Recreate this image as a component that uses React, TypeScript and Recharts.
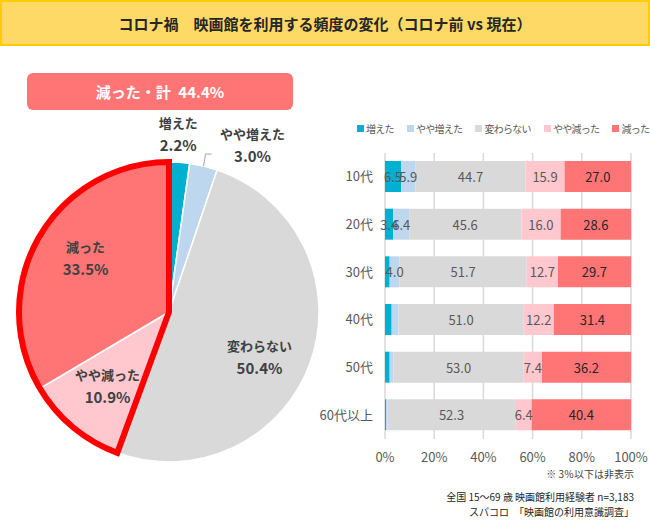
import React from 'react';
import { PieChart, Pie, Cell, BarChart, Bar, XAxis, YAxis, CartesianGrid, LabelList } from 'recharts';

// ---- Data ----
const seriesNames = ['増えた', 'やや増えた', '変わらない', 'やや減った', '減った'];
const seriesColors = ['#00B0D0', '#BDD7EE', '#D9D9D9', '#FFC7CE', '#FF7575'];

const pieValues = [2.2, 3.0, 50.4, 10.9, 33.5];

const ageCategories = ['10代', '20代', '30代', '40代', '50代', '60代以上'];
const increased = [6.5, 3.4, 1.9, 2.7, 1.9, 0.4];
const slightlyIncreased = [5.9, 6.4, 4.0, 2.7, 1.5, 0.5];
const unchanged = [44.7, 45.6, 51.7, 51.0, 53.0, 52.3];
const slightlyDecreased = [15.9, 16.0, 12.7, 12.2, 7.4, 6.4];
const decreased = [27.0, 28.6, 29.7, 31.4, 36.2, 40.4];

const xTicks = [0, 20, 40, 60, 80, 100];

const titleText = 'コロナ禍\u3000映画館を利用する頻度の変化（コロナ前 vs 現在）';
const noteText1 = '※ 3％以下は非表示';
const noteText2 = '全国 15～69 歳 映画館利用経験者 n=3,183';
const noteText3 = 'スパコロ\u3000「映画館の利用意識調査」';

// ---- Derived tables ----
const pieData = seriesNames.map((name, i) => ({ name, value: pieValues[i] }));
const decreasedTotal = pieValues[3] + pieValues[4];
const outlineData = [
  { name: 'other', value: pieValues[0] + pieValues[1] + pieValues[2] },
  { name: 'decreased', value: decreasedTotal },
];
const seriesKeys = ['inc', 'sinc', 'same', 'sdec', 'dec'];
const seriesArrays = [increased, slightlyIncreased, unchanged, slightlyDecreased, decreased];
const barData = ageCategories.map((age, i) => {
  const row: any = { age };
  seriesKeys.forEach((k, j) => (row[k] = seriesArrays[j][i]));
  return row;
});

const FONT = "'Noto Sans CJK JP', 'Noto Sans', sans-serif";
const RADIAN = Math.PI / 180;

const renderPieLabel = (props: any) => {
  const { cx, cy, midAngle, outerRadius, index, name, value } = props;
  const cos = Math.cos(-midAngle * RADIAN);
  const sin = Math.sin(-midAngle * RADIAN);
  let x: number;
  let y: number;
  let line: React.ReactNode = null;
  if (index === 0) {
    const r = outerRadius * 1.08;
    x = cx + r * cos - 2;
    y = cy + r * sin - 17;
  } else if (index === 1) {
    const ex = cx + outerRadius * cos;
    const ey = cy + outerRadius * sin;
    const my = ey - 12;
    line = (
      <polyline
        points={`${ex},${ey} ${ex + 2},${my} ${ex + 8},${my}`}
        fill="none"
        stroke="#A6A6A6"
        strokeWidth={1}
      />
    );
    x = ex + 49;
    y = my - 10;
  } else {
    const r = outerRadius * 0.64;
    x = cx + r * cos;
    y = cy + r * sin;
    if (index === 2) y += 13;
    if (index === 4) y -= 7;
  }
  return (
    <g>
      {line}
      <text x={x} y={y - 11} textAnchor="middle" dominantBaseline="central" fill="#404040" fontSize={13} fontWeight={700} fontFamily={FONT}>
        {name}
      </text>
      <text x={x} y={y + 11} textAnchor="middle" dominantBaseline="central" fill="#404040" fontSize={15} fontWeight={700} fontFamily={FONT}>
        {`${value.toFixed(1)}%`}
      </text>
    </g>
  );
};

const makeBarLabel = (color: string) => (props: any) => {
  const { x, y, width, height, value } = props;
  if (value == null || value <= 3) return null;
  return (
    <text
      x={x + width / 2}
      y={y + height / 2}
      textAnchor="middle"
      dominantBaseline="central"
      fill={color}
      fontSize={13}
      fontFamily={FONT}
    >
      {Number(value).toFixed(1)}
    </text>
  );
};

export default function App() {
  return (
    <div style={{ position: 'absolute', left: 0, top: 0, width: 650, height: 527, background: '#fff', fontFamily: FONT, overflow: 'hidden' }}>
      {/* Title */}
      <div
        style={{
          position: 'absolute', left: 0, top: 0, width: 650, height: 46, boxSizing: 'border-box',
          background: '#FFD966', border: '2px solid #FFCC00', display: 'flex', alignItems: 'center',
          justifyContent: 'center', fontWeight: 700, fontSize: 15, color: '#262626',
        }}
      >
        {titleText}
      </div>

      {/* Decrease total box */}
      <div
        style={{
          position: 'absolute', left: 27, top: 73, width: 266, height: 37, boxSizing: 'border-box',
          background: '#FF7575', borderRadius: 6, color: '#fff', fontWeight: 700, fontSize: 15,
          display: 'flex', alignItems: 'center', justifyContent: 'center',
        }}
      >
        {`減った・計\u2002${decreasedTotal.toFixed(1)}%`}
      </div>

      {/* Pie */}
      <div style={{ position: 'absolute', left: 0, top: 0 }}>
        <PieChart width={330} height={480}>
          <Pie
            data={pieData}
            dataKey="value"
            nameKey="name"
            cx={164}
            cy={307}
            outerRadius={150}
            startAngle={90}
            endAngle={-270}
            stroke="#FFFFFF"
            strokeWidth={1.5}
            label={renderPieLabel}
            labelLine={false}
            isAnimationActive={false}
          >
            {pieData.map((d, i) => (
              <Cell key={d.name} fill={seriesColors[i]} />
            ))}
          </Pie>
          <Pie
            data={outlineData}
            dataKey="value"
            nameKey="name"
            cx={164}
            cy={307}
            outerRadius={150}
            startAngle={90}
            endAngle={-270}
            isAnimationActive={false}
            label={false}
            labelLine={false}
          >
            <Cell key="o0" fill="none" stroke="none" />
            <Cell key="o1" fill="none" stroke="#FF0000" strokeWidth={6} />
          </Pie>
        </PieChart>
      </div>

      {/* Legend */}
      <div style={{ position: 'absolute', left: 357, top: 121, display: 'flex', alignItems: 'center', fontSize: 10, letterSpacing: -0.7, color: '#595959', whiteSpace: 'nowrap' }}>
        {seriesNames.map((n, i) => (
          <div key={n} style={{ display: 'flex', alignItems: 'center', marginRight: 13 }}>
            <span style={{ display: 'inline-block', width: 7, height: 7, background: seriesColors[i], marginRight: 2 }} />
            <span>{n}</span>
          </div>
        ))}
      </div>

      {/* Bar chart */}
      <div style={{ position: 'absolute', left: 310, top: 150 }}>
        <BarChart
          width={340}
          height={325}
          data={barData}
          layout="vertical"
          margin={{ top: 3, right: 19, bottom: 0, left: 0 }}
          barSize={31}
        >
          <CartesianGrid horizontal={false} vertical={true} stroke="#D9D9D9" strokeWidth={1.5} />
          <XAxis
            type="number"
            domain={[0, 100]}
            ticks={xTicks}
            tickFormatter={(v: number) => `${v}%`}
            axisLine={false}
            tickLine={false}
            tickMargin={8}
            height={36}
            interval={0}
            tick={{ fill: '#595959', fontSize: 13, fontFamily: FONT }}
          />
          <YAxis
            type="category"
            dataKey="age"
            width={75}
            axisLine={false}
            tickLine={false}
            tickMargin={6}
            tick={{ fill: '#595959', fontSize: 13, fontFamily: FONT }}
          />
          {seriesKeys.map((k, i) => (
            <Bar key={k} dataKey={k} stackId="a" fill={seriesColors[i]} isAnimationActive={false}>
              <LabelList dataKey={k} content={makeBarLabel(i === 4 ? '#262626' : '#595959')} />
            </Bar>
          ))}
        </BarChart>
      </div>

      {/* Notes */}
      <div style={{ position: 'absolute', right: 16, top: 466, fontSize: 10, color: '#404040', textAlign: 'right', whiteSpace: 'nowrap' }}>
        {noteText1}
      </div>
      <div style={{ position: 'absolute', right: 16, top: 489, fontSize: 10, color: '#262626', textAlign: 'right', whiteSpace: 'nowrap' }}>
        {noteText2}
      </div>
      <div style={{ position: 'absolute', right: 16, top: 504, fontSize: 10, color: '#262626', textAlign: 'right', whiteSpace: 'nowrap' }}>
        {noteText3}
      </div>
    </div>
  );
}
